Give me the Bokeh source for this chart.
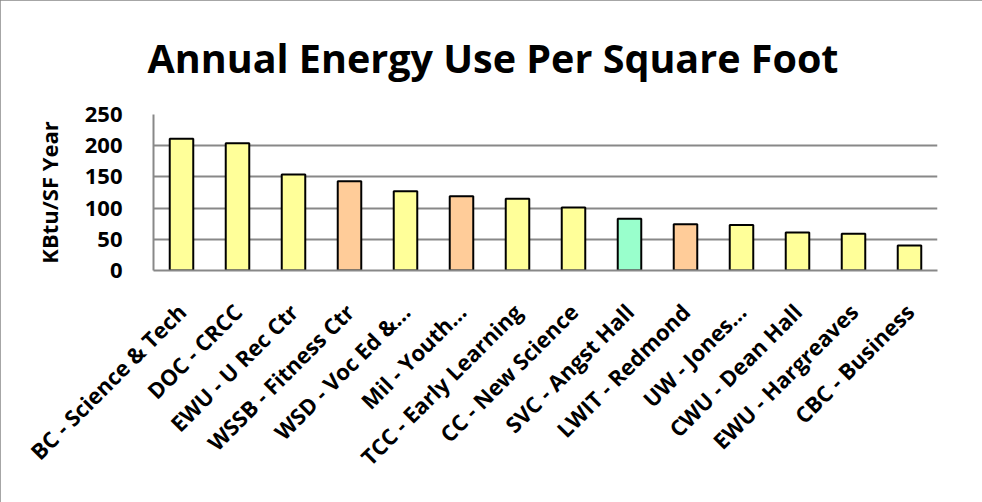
import math
from bokeh.plotting import figure
from bokeh.models import ColumnDataSource, Range1d
from bokeh.embed import file_html
from bokeh.resources import INLINE

buildings = [
    "BC - Science & Tech", "DOC - CRCC", "EWU - U Rec Ctr", "WSSB - Fitness Ctr",
    "WSD - Voc Ed &...", "Mil - Youth...", "TCC - Early Learning", "CC - New Science",
    "SVC - Angst Hall", "LWIT - Redmond", "UW - Jones...", "CWU - Dean Hall",
    "EWU - Hargreaves", "CBC - Business",
]
kbtu_per_sf = [211, 204, 154, 143, 127, 119, 115, 101, 83, 74, 73, 61, 59, 40]
group = ["A", "A", "A", "B", "A", "B", "A", "A", "C", "B", "A", "A", "A", "A"]
y_ticks = [0, 50, 100, 150, 200, 250]
chart_title = "Annual Energy Use Per Square Foot"

palette = {"A": "#FFFF99", "B": "#FFCC99", "C": "#99FFCC"}
FONT = "Open Sans"

src = ColumnDataSource(dict(x=buildings, top=kbtu_per_sf,
                            color=[palette[g] for g in group]))

p = figure(width=982, height=502, x_range=buildings, y_range=Range1d(0, 250),
           output_backend="svg", toolbar_location=None,
           min_border_left=153, min_border_right=45,
           min_border_top=114, min_border_bottom=232)
p.styles = {"outline": "2px solid #888888", "outline-offset": "-2px"}

p.title.text = chart_title
p.title.align = "right"
p.title.offset = 99
p.title.vertical_align = "top"
p.title.standoff = 56
p.title.text_font = FONT
p.title.text_font_style = "bold"
p.title.text_font_size = "39.5px"
p.title.text_color = "black"

p.vbar(x="x", top="top", width=0.42, source=src, fill_color="color",
       line_color="black", line_width=2)

p.outline_line_color = None
p.xgrid.grid_line_color = None
p.ygrid.grid_line_color = "#888888"
p.ygrid.grid_line_width = 2
p.yaxis.ticker = y_ticks

p.yaxis.axis_line_color = "#888888"
p.yaxis.axis_line_width = 2
p.yaxis.major_tick_line_color = None
p.yaxis.minor_tick_line_color = None
p.yaxis.major_label_standoff = 25
p.yaxis.major_label_text_font = FONT
p.yaxis.major_label_text_font_style = "bold"
p.yaxis.major_label_text_font_size = "22px"
p.yaxis.major_label_text_color = "black"
p.yaxis.axis_label = "KBtu/SF Year"
p.yaxis.axis_label_text_font = FONT
p.yaxis.axis_label_text_font_style = "bold"
p.yaxis.axis_label_text_font_size = "22px"
p.yaxis.axis_label_standoff = 18
p.yaxis.axis_label_text_color = "black"

p.xaxis.axis_line_color = "#888888"
p.xaxis.axis_line_width = 2
p.xaxis.major_tick_line_color = None
p.xaxis.minor_tick_line_color = None
p.xaxis.major_label_orientation = math.pi / 4
p.xaxis.major_label_standoff = 31
p.xaxis.major_label_text_font = FONT
p.xaxis.major_label_text_font_style = "bold"
p.xaxis.major_label_text_font_size = "22px"
p.xaxis.major_label_text_color = "black"

open("out.html", "w").write(file_html(p, INLINE))
